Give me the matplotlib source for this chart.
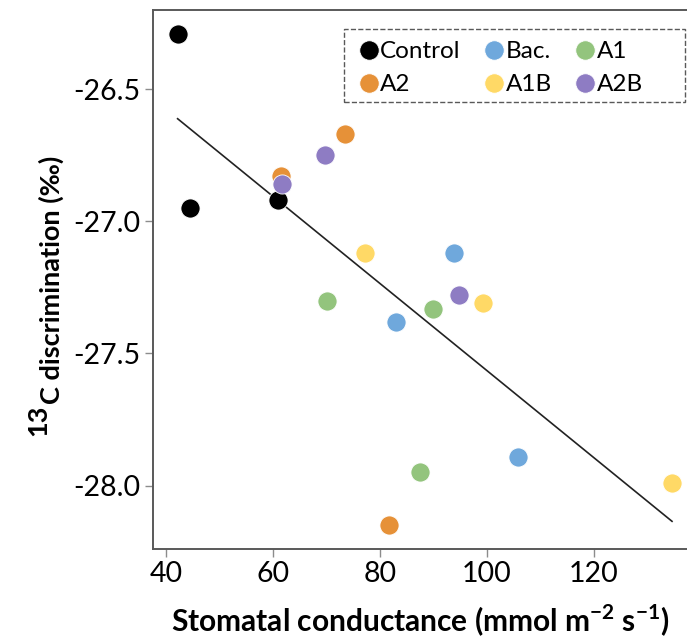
import numpy as np
from matplotlib import pyplot as plt
from matplotlib.lines import Line2D
from matplotlib.patches import Rectangle

plt.rcParams['font.family'] = ['Lato', 'DejaVu Sans']
plt.rcParams['mathtext.fontset'] = 'custom'
plt.rcParams['mathtext.rm'] = 'Lato'
plt.rcParams['mathtext.bf'] = 'Lato:bold'
plt.rcParams['axes.unicode_minus'] = False

# values, one list per treatment
groups = ['Control', 'Bac.', 'A1', 'A2', 'A1B', 'A2B']
colors = ['#000000', '#6fa8dc', '#93c47d', '#e69138', '#ffd966', '#8e7cc3']
control_x = [42.2, 44.5, 60.9]
control_y = [-26.29, -26.95, -26.92]
bac_x = [93.8, 83.0, 105.8]
bac_y = [-27.12, -27.38, -27.89]
a1_x = [70.1, 89.9, 87.5]
a1_y = [-27.30, -27.33, -27.95]
a2_x = [61.5, 73.5, 81.7]
a2_y = [-26.83, -26.67, -28.15]
a1b_x = [77.2, 99.3, 134.6]
a1b_y = [-27.12, -27.31, -27.99]
a2b_x = [69.7, 61.7, 94.8]
a2b_y = [-26.75, -26.86, -27.28]

xs = [control_x, bac_x, a1_x, a2_x, a1b_x, a2b_x]
ys = [control_y, bac_y, a1_y, a2_y, a1b_y, a2b_y]

x_ticks = [40, 60, 80, 100, 120]
y_ticks = [-26.5, -27.0, -27.5, -28.0]

fig = plt.figure(figsize=(6.87, 6.41), dpi=100)
ax = fig.add_axes([153 / 687, 92 / 641, 1 - 153 / 687, 539 / 641])

# linear trend over all points
all_x = np.concatenate(xs)
all_y = np.concatenate(ys)
slope, icpt = np.polyfit(all_x, all_y, 1)
line_x = np.array([all_x.min(), all_x.max()])
ax.plot(line_x, slope * line_x + icpt, color='#222222', lw=1.2, zorder=2)

for name, c, x, y in zip(groups, colors, xs, ys):
    ax.scatter(x, y, s=190, color=c, edgecolors='white', linewidths=0.6,
               zorder=3, label=name)

ax.set_xlim(37.6, 137.4)
ax.set_ylim(-28.24, -26.2)
ax.set_xticks(x_ticks)
ax.set_yticks(y_ticks)
ax.set_yticklabels(['%.1f' % v for v in y_ticks])
ax.tick_params(labelsize=20.5, direction='out', length=6, width=1,
               color='#8c8c8c', pad=3)
for s in ['left', 'bottom', 'top']:
    ax.spines[s].set_color('#595959')
    ax.spines[s].set_linewidth(1.4)
ax.spines['right'].set_visible(False)

ax.set_xlabel(r'Stomatal conductance (mmol m$^{\mathbf{-2}}$ s$^{\mathbf{-1}}$)',
              fontsize=21.5, fontweight='bold', labelpad=11)
ylab = ax.set_ylabel('C discrimination (‰)', fontsize=19.5,
                     fontweight='bold', labelpad=7)
# raised full-size "13" in front of the C
ax.annotate('13', xy=(0, 0), xycoords=ylab, xytext=(-9, -1),
            textcoords='offset points', rotation=90, ha='left', va='top',
            fontsize=19.5, fontweight='bold')

# legend without frame, dashed box drawn separately
order = [0, 3, 1, 4, 2, 5]
handles = [Line2D([], [], marker='o', ls='', ms=14, color=colors[i],
                  markeredgecolor='white', markeredgewidth=0.6) for i in order]
leg = fig.legend(handles, [groups[i] for i in order], ncol=3,
                 loc='upper left', bbox_to_anchor=(357 / 687, 1 - 41 / 641),
                 fontsize=17.5, frameon=False,
                 handletextpad=0.0, handlelength=0.95, columnspacing=0.9,
                 borderpad=0, labelspacing=0.5, borderaxespad=0)
fig.add_artist(Rectangle((344 / 687, 1 - 102 / 641), 341 / 687, 73 / 641,
                         transform=fig.transFigure, fill=False,
                         ls='--', lw=1.0, ec='#595959'))

fig.savefig('out.png', dpi=100)
